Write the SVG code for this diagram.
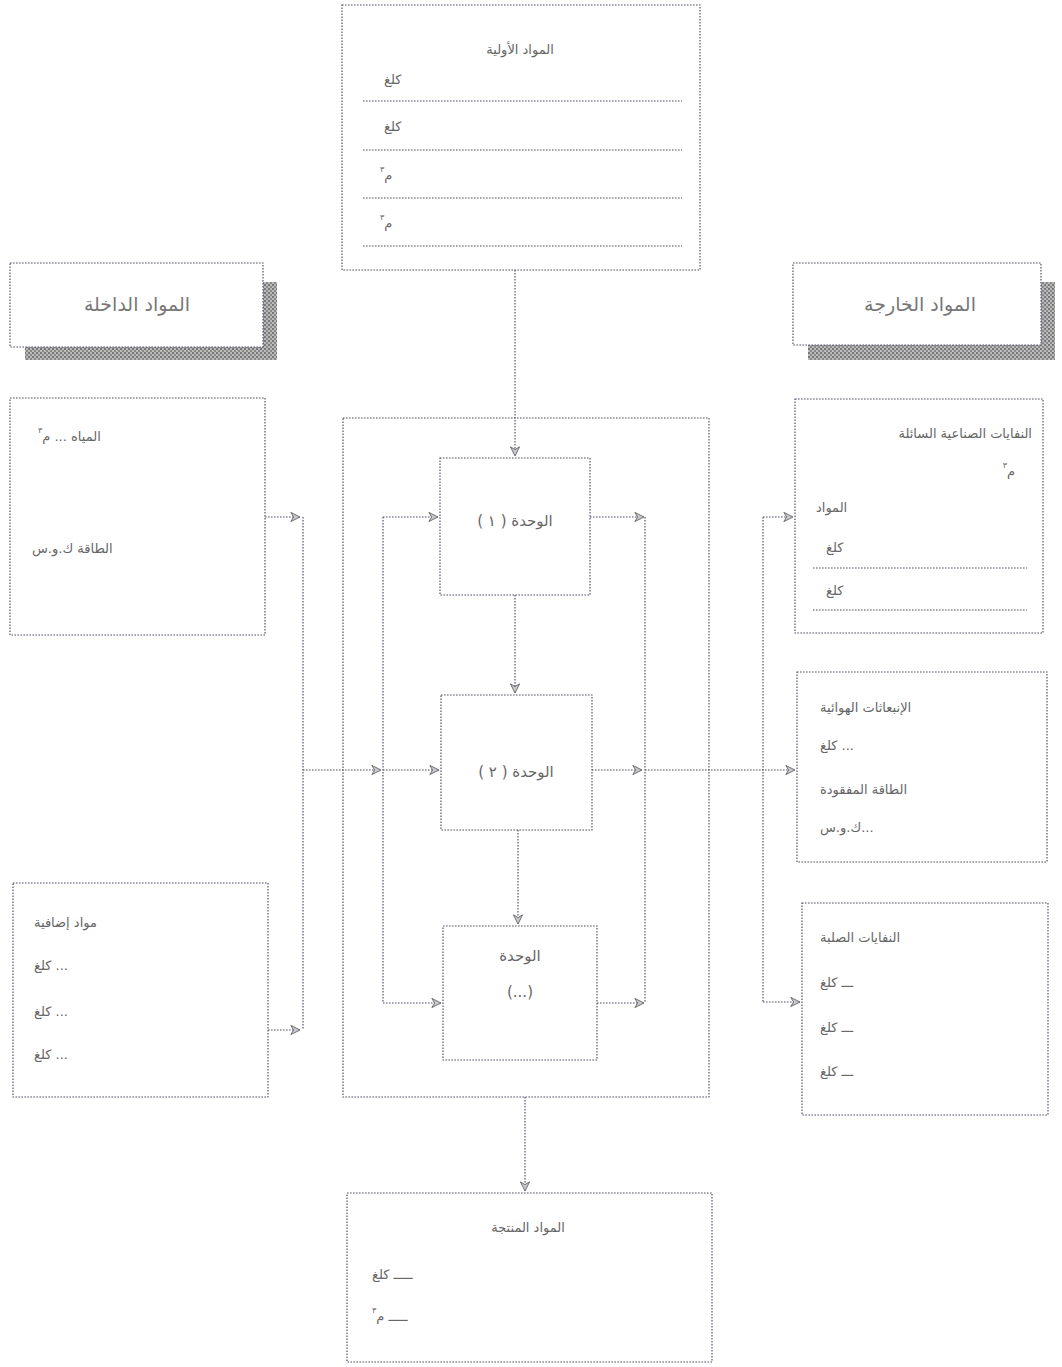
<svg xmlns="http://www.w3.org/2000/svg" width="1062" height="1367" viewBox="0 0 1062 1367">
<style>
.box{fill:#fff;stroke:#52526a;stroke-width:1.2;stroke-dasharray:1.6 1.4}
.ln{fill:none;stroke:#52526a;stroke-width:1.2;stroke-dasharray:1.6 1.4}
.arr{fill:none;stroke:#52526a;stroke-width:1.2;stroke-dasharray:1.6 1.4;marker-end:url(#ah)}
.t{font-family:"DejaVu Sans",sans-serif;font-size:13px;fill:#666;direction:rtl}
.h{font-family:"DejaVu Sans",sans-serif;font-size:19px;fill:#777;direction:rtl}
.u{font-family:"DejaVu Sans",sans-serif;font-size:15px;fill:#666;direction:rtl}
.sup{font-size:8px}
</style>
<defs>
<marker id="ah" viewBox="0 0 12 12" refX="11" refY="6" markerWidth="11" markerHeight="11" markerUnits="userSpaceOnUse" orient="auto">
<path d="M1,1 L11,6 L1,11 L4,6 Z" fill="#c8c8d0" stroke="#666" stroke-width="1"/>
</marker>
<pattern id="hatch" width="4" height="4" patternUnits="userSpaceOnUse">
<rect width="4" height="4" fill="#bbb"/>
<rect width="2" height="2" fill="#777"/>
<rect x="2" y="2" width="2" height="2" fill="#888"/>
</pattern>
</defs>
<rect width="1062" height="1367" fill="#fff"/>

<g id="connectors">
<path class="arr" d="M515,270 V456"/>
<path class="arr" d="M515,595 V693"/>
<path class="arr" d="M518,830 V924"/>
<path class="arr" d="M525,1097 V1191"/>
<path class="arr" d="M265,517 H300"/>
<path class="arr" d="M268,1030 H300"/>
<path class="ln" d="M303,517 V1030"/>
<path class="arr" d="M303,770 H381"/>
<path class="arr" d="M383,770 H439"/>
<path class="ln" d="M383,517 V1003"/>
<path class="arr" d="M383,517 H438"/>
<path class="arr" d="M383,1003 H441"/>
<path class="arr" d="M590,517 H644"/>
<path class="arr" d="M597,1003 H644"/>
<path class="ln" d="M645,517 V1003"/>
<path class="arr" d="M592,770 H642"/>
<path class="arr" d="M645,770 H795"/>
<path class="ln" d="M763,517 V1002"/>
<path class="arr" d="M763,517 H793"/>
<path class="arr" d="M763,1002 H800"/>
</g>

<g id="raw-materials">
<rect class="box" x="342" y="5" width="358" height="265"/>
<text class="t" x="520" y="54" text-anchor="middle">المواد الأولية</text>
<text class="t" x="384" y="84" text-anchor="end">كلغ</text>
<line class="ln" x1="363" y1="101" x2="682" y2="101"/>
<text class="t" x="384" y="131" text-anchor="end">كلغ</text>
<line class="ln" x1="363" y1="150" x2="682" y2="150"/>
<text class="t" x="380" y="180" text-anchor="end">م<tspan class="sup" dy="-8">٣</tspan></text>
<line class="ln" x1="363" y1="198" x2="682" y2="198"/>
<text class="t" x="380" y="228" text-anchor="end">م<tspan class="sup" dy="-8">٣</tspan></text>
<line class="ln" x1="363" y1="246" x2="682" y2="246"/>
</g>

<g id="inputs-header">
<rect x="263" y="282" width="14" height="78" fill="url(#hatch)"/>
<rect x="25" y="347" width="252" height="13" fill="url(#hatch)"/>
<rect class="box" x="10" y="263" width="253" height="84"/>
<text class="h" x="137" y="311" text-anchor="middle">المواد الداخلة</text>
</g>

<g id="outputs-header">
<rect x="1041" y="282" width="14" height="78" fill="url(#hatch)"/>
<rect x="808" y="345" width="247" height="15" fill="url(#hatch)"/>
<rect class="box" x="793" y="263" width="248" height="82"/>
<text class="h" x="920" y="311" text-anchor="middle">المواد الخارجة</text>
</g>

<g id="inputs-water-energy">
<rect class="box" x="10" y="398" width="255" height="237"/>
<text class="t" x="38" y="441" text-anchor="end">المياه ... م<tspan class="sup" dy="-8">٣</tspan></text>
<text class="t" x="32" y="553" text-anchor="end">الطاقة ك.و.س</text>
</g>

<g id="inputs-additives">
<rect class="box" x="13" y="883" width="255" height="214"/>
<text class="t" x="34" y="927" text-anchor="end">مواد إضافية</text>
<text class="t" x="34" y="970" text-anchor="end">... كلغ</text>
<text class="t" x="34" y="1016" text-anchor="end">... كلغ</text>
<text class="t" x="34" y="1059" text-anchor="end">... كلغ</text>
</g>

<g id="process">
<rect class="box" x="343" y="418" width="366" height="679" style="fill:none"/>
</g>

<g id="unit-1">
<rect class="box" x="440" y="458" width="150" height="137"/>
<text class="u" x="515" y="526" text-anchor="middle">الوحدة ( ١ )</text>
</g>

<g id="unit-2">
<rect class="box" x="441" y="695" width="151" height="135"/>
<text class="u" x="516" y="777" text-anchor="middle">الوحدة ( ٢ )</text>
</g>

<g id="unit-n">
<rect class="box" x="443" y="926" width="154" height="134"/>
<text class="u" x="520" y="961" text-anchor="middle">الوحدة</text>
<text class="u" x="520" y="997" text-anchor="middle">(...)</text>
</g>

<g id="outputs-liquid-waste">
<rect class="box" x="795" y="399" width="248" height="234"/>
<text class="t" x="1032" y="438" text-anchor="start">النفايات الصناعية السائلة</text>
<text class="t" x="1015" y="476" text-anchor="start">م<tspan class="sup" dy="-8">٣</tspan></text>
<text class="t" x="816" y="512" text-anchor="end">المواد</text>
<text class="t" x="826" y="552" text-anchor="end">كلغ</text>
<line class="ln" x1="813" y1="568" x2="1027" y2="568"/>
<text class="t" x="826" y="595" text-anchor="end">كلغ</text>
<line class="ln" x1="813" y1="610" x2="1027" y2="610"/>
</g>

<g id="outputs-air">
<rect class="box" x="797" y="672" width="250" height="190"/>
<text class="t" x="820" y="712" text-anchor="end">الإنبعاثات الهوائية</text>
<text class="t" x="820" y="750" text-anchor="end">... كلغ</text>
<text class="t" x="820" y="794" text-anchor="end">الطاقة المفقودة</text>
<text class="t" x="820" y="832" text-anchor="end">...ك.و.س</text>
</g>

<g id="outputs-solid-waste">
<rect class="box" x="802" y="903" width="246" height="212"/>
<text class="t" x="820" y="942" text-anchor="end">النفايات الصلبة</text>
<text class="t" x="820" y="987" text-anchor="end">ـــ كلغ</text>
<text class="t" x="820" y="1032" text-anchor="end">ـــ كلغ</text>
<text class="t" x="820" y="1076" text-anchor="end">ـــ كلغ</text>
</g>

<g id="products">
<rect class="box" x="347" y="1193" width="365" height="169"/>
<text class="t" x="528" y="1232" text-anchor="middle">المواد المنتجة</text>
<text class="t" x="372" y="1279" text-anchor="end">ـــــ كلغ</text>
<text class="t" x="372" y="1321" text-anchor="end">ـــــ م<tspan class="sup" dy="-8">٣</tspan></text>
</g>
</svg>
